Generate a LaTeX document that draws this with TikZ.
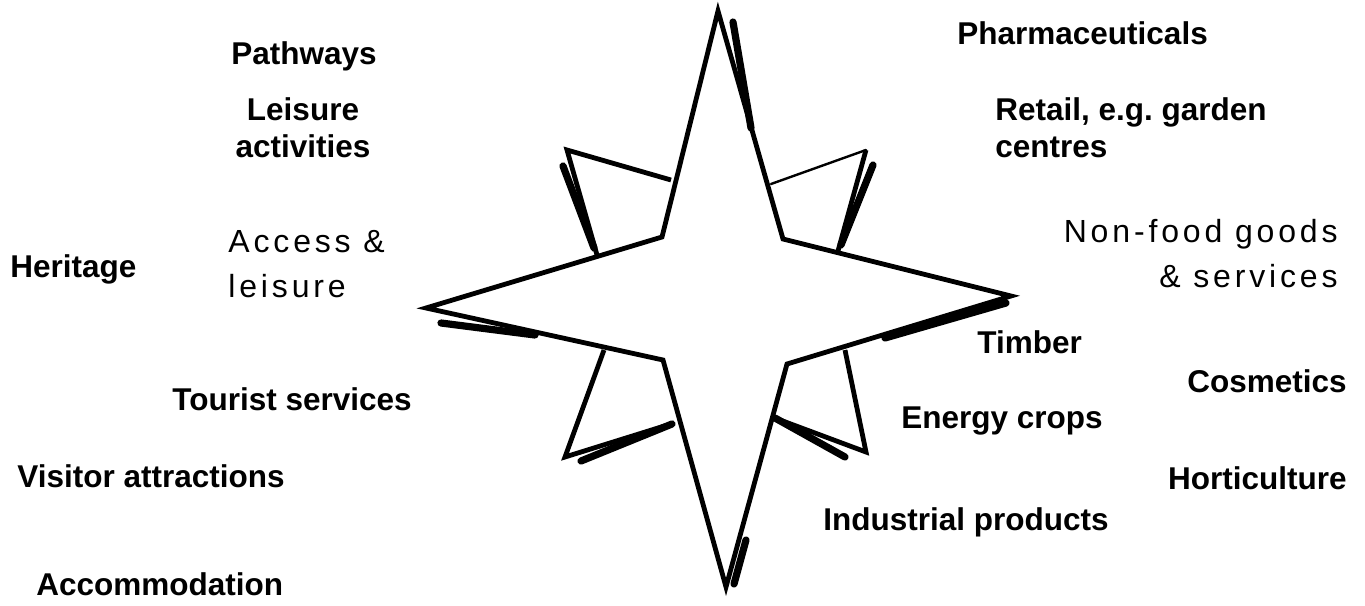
\documentclass[tikz,border=0pt]{standalone}
\usepackage{fontspec}
\setmainfont{Liberation Sans}
\newfontfamily\widefont[LetterSpace=12]{Liberation Sans}
\usepackage{tikz}
\tikzset{
  lbl/.style={font=\fontsize{15.75}{18.5}\selectfont\bfseries, inner sep=0pt},
  soft/.style={font=\widefont\fontsize{16}{22.5}\selectfont, inner sep=0pt},
  rim/.style={line width=2.4pt, line join=miter, miter limit=30},
  rimthin/.style={line width=1.2pt, line cap=round},
  hatch/.style={line width=3.6pt, line cap=round},
}

\begin{document}
\begin{tikzpicture}[x=0.5pt, y=-0.5pt]
  \useasboundingbox (0,0) rectangle (1365,605);
  % main star points
  \coordinate (n) at (718,11);
  \coordinate (ne) at (783,239);
  \coordinate (e) at (1011,296);
  \coordinate (se) at (787,364);
  \coordinate (s) at (726,587);
  \coordinate (sw) at (663,360);
  \coordinate (w) at (426,308);
  \coordinate (nw) at (662,237);
  % small diagonal points
  \coordinate (ulTip) at (567,150);
  \coordinate (urTip) at (866,150);
  \coordinate (llTip) at (565,457);
  \coordinate (lrTip) at (866,452);
  \draw[rim] (671,180) -- (ulTip) -- (597,255);
  \draw[hatch] (563,166) -- (594,248);
  \draw[rimthin] (771,184) -- (urTip);
  \draw[rim] (urTip) -- (838,251);
  \draw[hatch] (873,165) -- (841,245);
  \draw[rim] (604,350) -- (llTip) -- (674,423);
  \draw[hatch] (581,461) -- (672,424);
  \draw[rim] (845,350) -- (lrTip) -- (772,417);
  \draw[hatch] (775,418) -- (845,457);
  % star outline
  \draw[rim, fill=white] (n) -- (ne) -- (e) -- (se) -- (s) -- (sw) -- (w) -- (nw) -- cycle;
  \draw[hatch] (733,22) -- (751,128);
  \draw[hatch] (441,323) -- (535,335);
  \draw[hatch] (1006,303) -- (885,338);
  \draw[hatch] (734,584) -- (746,540);

  \node[lbl, anchor=base west] (pathways) at (231,64) {Pathways};
  \node[lbl, align=center, anchor=base] (leisure) at (303,157) {Leisure\\activities};
  \node[lbl, anchor=base west] (heritage) at (10,277) {Heritage};
  \node[soft, align=left, anchor=base west] (access) at (228,297) {Access \&\\leisure};
  \node[lbl, anchor=base west] (tourist) at (172,410) {Tourist services};
  \node[lbl, anchor=base west] (visitor) at (17,487) {Visitor attractions};
  \node[lbl, anchor=base west] (accomm) at (36,595) {Accommodation};
  \node[lbl, anchor=base west] (pharma) at (957,44) {Pharmaceuticals};
  \node[lbl, align=left, anchor=base west] (retail) at (995,157) {Retail, e.g.\ garden\\centres};
  \node[soft, align=right, anchor=base east] (nonfood) at (1338,287) {Non-food goods\\\& services};
  \node[lbl, anchor=base west] (timber) at (977,353) {Timber};
  \node[lbl, anchor=base east] (cosmetics) at (1347,392) {Cosmetics};
  \node[lbl, anchor=base west] (energy) at (901,428) {Energy crops};
  \node[lbl, anchor=base east] (horti) at (1347,489) {Horticulture};
  \node[lbl, anchor=base west] (industrial) at (823,530) {Industrial products};
\end{tikzpicture}
\end{document}
